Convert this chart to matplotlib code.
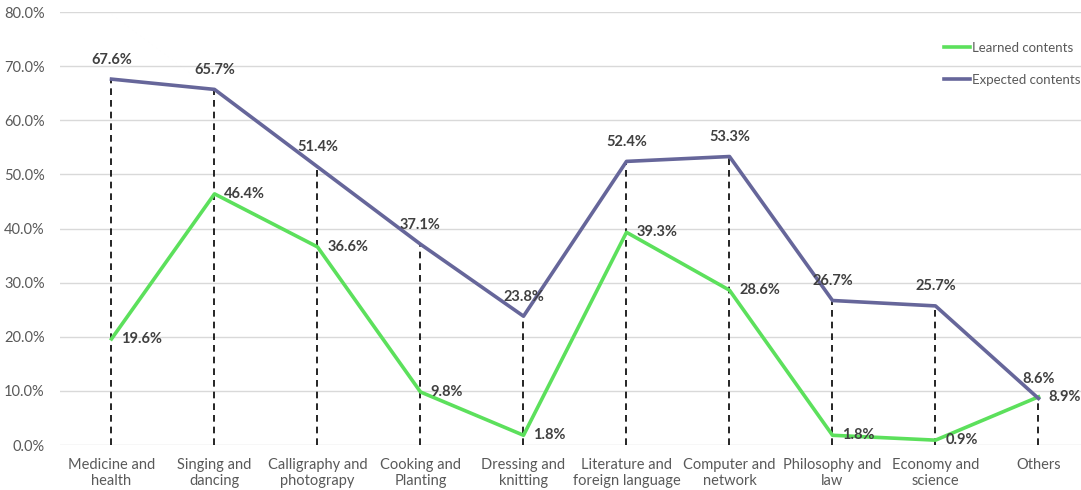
import numpy as np
import matplotlib
matplotlib.use("Agg")
import matplotlib.pyplot as plt
from matplotlib.ticker import FuncFormatter

plt.rcParams['font.family'] = ['Lato', 'DejaVu Sans']

categories = ["Medicine and\nhealth", "Singing and\ndancing",
              "Calligraphy and\nphotograpy", "Cooking and\nPlanting",
              "Dressing and\nknitting", "Literature and\nforeign language",
              "Computer and\nnetwork", "Philosophy and\nlaw",
              "Economy and\nscience", "Others"]
learned = [19.6, 46.4, 36.6, 9.8, 1.8, 39.3, 28.6, 1.8, 0.9, 8.9]
expected = [67.6, 65.7, 51.4, 37.1, 23.8, 52.4, 53.3, 26.7, 25.7, 8.6]
yticks = [0, 10, 20, 30, 40, 50, 60, 70, 80]

green = '#5CE05C'
purple = '#66669A'
text_grey = '#595959'
label_grey = '#404040'

fig = plt.figure(figsize=(10.81, 4.9), dpi=100)
ax = fig.add_axes([60 / 1081, 0.0918, 1030 / 1081, 0.8837])

x = np.arange(len(categories))

# dashed drop lines from the upper point of each category down to zero
for xi, lv, ev in zip(x, learned, expected):
    ax.plot([xi, xi], [0, max(lv, ev)], color='black', lw=1.2,
            ls=(0, (4, 3)), zorder=2)

ax.plot(x, learned, color=green, lw=2.6, label='Learned contents', zorder=3)
ax.plot(x, expected, color=purple, lw=2.6, label='Expected contents', zorder=3)

for xi, v in zip(x, expected):
    ax.annotate('%.1f%%' % v, (xi, v), xytext=(0, 14), textcoords='offset points',
                ha='center', va='center', fontsize=10.5, fontweight='bold',
                color=label_grey)
for xi, v in zip(x, learned):
    ax.annotate('%.1f%%' % v, (xi, v), xytext=(7, 0), textcoords='offset points',
                ha='left', va='center', fontsize=10.5, fontweight='bold',
                color=label_grey)

ax.set_xlim(-0.5, len(categories) - 0.5)
ax.set_ylim(0, 80)
ax.set_yticks(yticks)
ax.yaxis.set_major_formatter(FuncFormatter(lambda v, p: '%.1f%%' % v))
ax.set_xticks(x)
ax.set_xticklabels(categories, linespacing=1.25)
ax.tick_params(axis='both', length=0, labelsize=10.5, labelcolor=text_grey)
ax.tick_params(axis='y', pad=11)
ax.tick_params(axis='x', pad=9)
ax.grid(axis='y', color='#D9D9D9', lw=1)
ax.set_axisbelow(True)
for s in ax.spines.values():
    s.set_visible(False)

ax.legend(loc='upper left', bbox_to_anchor=(932 / 1081, 1 - 30 / 490),
          bbox_transform=fig.transFigure, frameon=False, fontsize=9.5,
          handlelength=2.0, handletextpad=0.15, labelspacing=1.5,
          labelcolor=text_grey)

fig.savefig('out.png', dpi=100)
